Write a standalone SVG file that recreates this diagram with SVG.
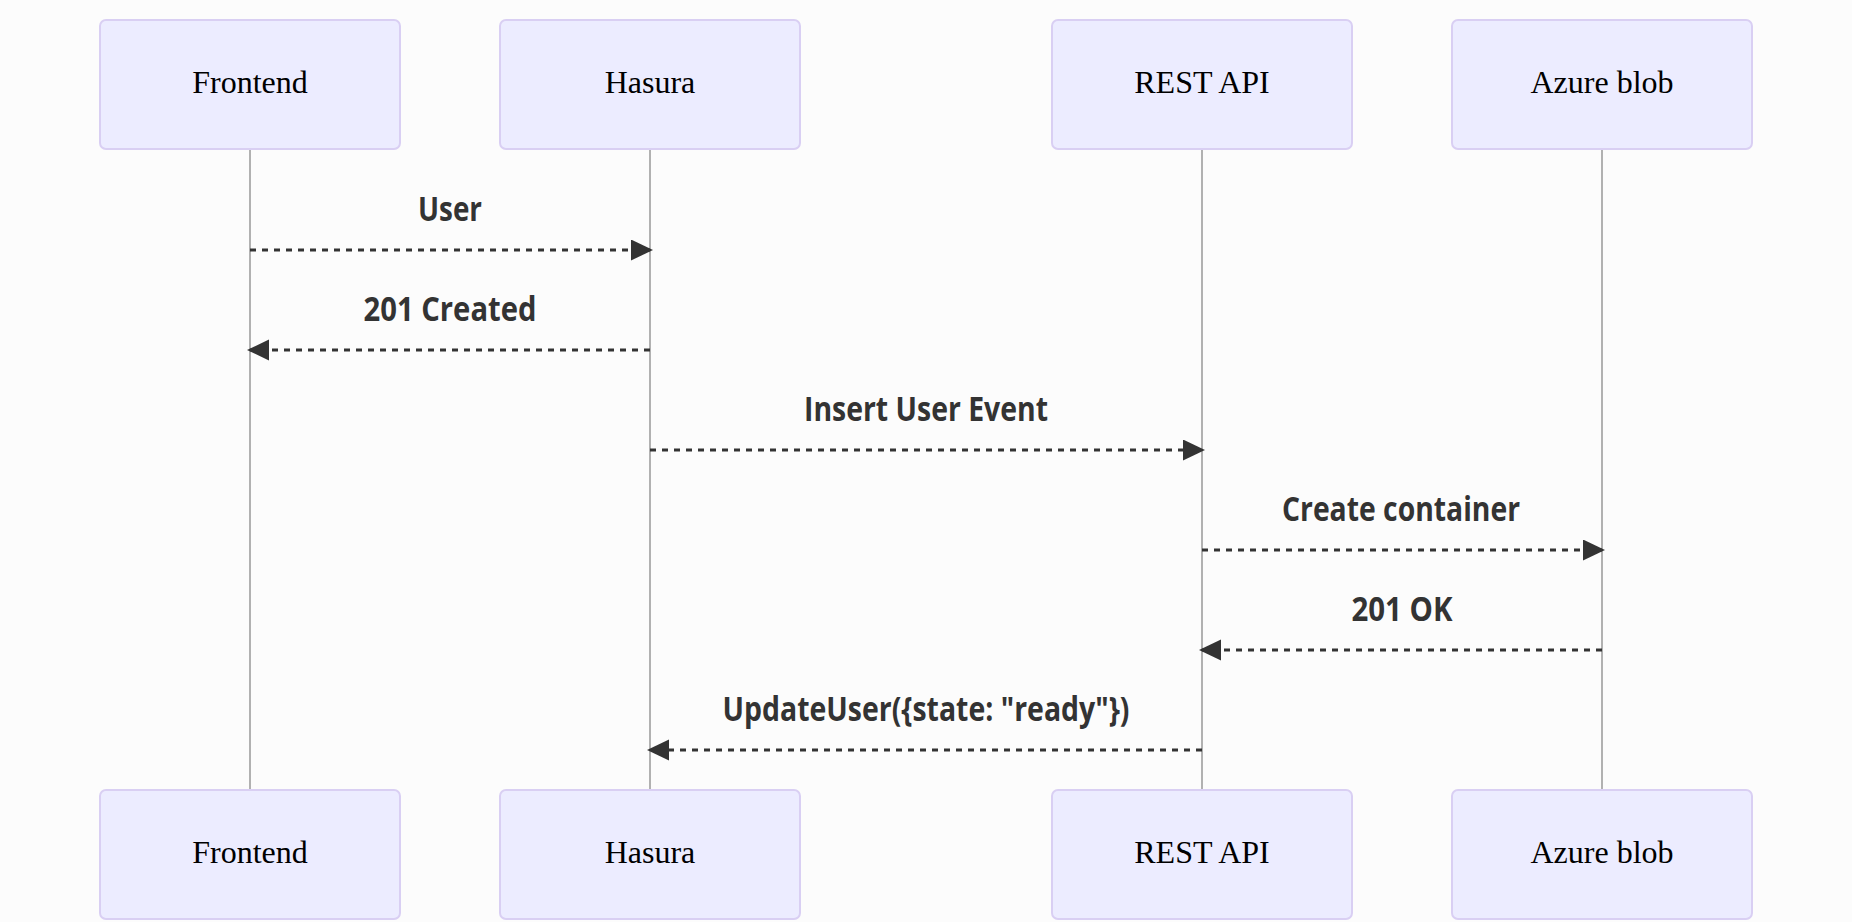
<svg xmlns="http://www.w3.org/2000/svg" width="1852" height="922" viewBox="0 0 1852 922">
<style>
.actor{fill:#ECECFF;stroke:#D9CFF3;stroke-width:2;}
.atext{font-family:"Liberation Serif","Times New Roman",serif;font-size:32px;fill:#000;text-anchor:middle;}
.life{stroke:#999;stroke-width:1.5;fill:none;}
.msg{stroke:#333;stroke-width:3;stroke-dasharray:6,6;fill:none;marker-end:url(#arrow);}
.mtext{font-family:"Open Sans","DejaVu Sans",sans-serif;font-weight:700;font-size:34px;fill:#333;text-anchor:middle;}
</style>
<defs>
<marker id="arrow" markerUnits="userSpaceOnUse" markerWidth="24" markerHeight="24" refX="19" refY="10.5" orient="auto">
<path d="M0,0 L22,10.5 L0,21 Z" fill="#333"/>
</marker>
</defs>
<rect width="1852" height="922" fill="#FCFCFC"/>
<g id="lifelines">
<line class="life" x1="250" y1="149" x2="250" y2="790"/>
<line class="life" x1="650" y1="149" x2="650" y2="790"/>
<line class="life" x1="1202" y1="149" x2="1202" y2="790"/>
<line class="life" x1="1602" y1="149" x2="1602" y2="790"/>
</g>
<g id="actor-frontend">
<rect class="actor" x="100" y="20" width="300" height="129" rx="6"/>
<text class="atext" x="250" y="93">Frontend</text>
</g>
<g id="actor-hasura">
<rect class="actor" x="500" y="20" width="300" height="129" rx="6"/>
<text class="atext" x="650" y="93">Hasura</text>
</g>
<g id="actor-rest">
<rect class="actor" x="1052" y="20" width="300" height="129" rx="6"/>
<text class="atext" x="1202" y="93">REST API</text>
</g>
<g id="actor-azure">
<rect class="actor" x="1452" y="20" width="300" height="129" rx="6"/>
<text class="atext" x="1602" y="93">Azure blob</text>
</g>
<g id="actor-frontend-bottom">
<rect class="actor" x="100" y="790" width="300" height="129" rx="6"/>
<text class="atext" x="250" y="863">Frontend</text>
</g>
<g id="actor-hasura-bottom">
<rect class="actor" x="500" y="790" width="300" height="129" rx="6"/>
<text class="atext" x="650" y="863">Hasura</text>
</g>
<g id="actor-rest-bottom">
<rect class="actor" x="1052" y="790" width="300" height="129" rx="6"/>
<text class="atext" x="1202" y="863">REST API</text>
</g>
<g id="actor-azure-bottom">
<rect class="actor" x="1452" y="790" width="300" height="129" rx="6"/>
<text class="atext" x="1602" y="863">Azure blob</text>
</g>
<g id="connectors">
<line class="msg" x1="250" y1="250" x2="650" y2="250"/>
<line class="msg" x1="650" y1="350" x2="250" y2="350"/>
<line class="msg" x1="650" y1="450" x2="1202" y2="450"/>
<line class="msg" x1="1202" y1="550" x2="1602" y2="550"/>
<line class="msg" x1="1602" y1="650" x2="1202" y2="650"/>
<line class="msg" x1="1202" y1="750" x2="650" y2="750"/>
</g>
<g id="labels">
<text class="mtext" x="450" y="221" textLength="64" lengthAdjust="spacingAndGlyphs">User</text>
<text class="mtext" x="450" y="321" textLength="173" lengthAdjust="spacingAndGlyphs">201 Created</text>
<text class="mtext" x="926" y="421" textLength="244" lengthAdjust="spacingAndGlyphs">Insert User Event</text>
<text class="mtext" x="1401" y="521" textLength="238" lengthAdjust="spacingAndGlyphs">Create container</text>
<text class="mtext" x="1402" y="621" textLength="101" lengthAdjust="spacingAndGlyphs">201 OK</text>
<text class="mtext" x="926" y="721" textLength="407" lengthAdjust="spacingAndGlyphs">UpdateUser({state: "ready"})</text>
</g>
</svg>
